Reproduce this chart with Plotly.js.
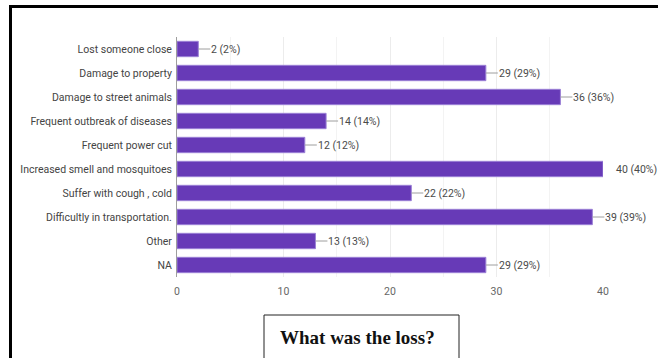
<!DOCTYPE html>
<html>
<head>
<meta charset="utf-8">
<script src="https://cdn.plot.ly/plotly-3.0.1.min.js"></script>
<style>html,body{margin:0;padding:0;background:#fff;}#chart{width:658px;height:358px;}</style>
</head>
<body>
<div id="chart"></div>
<script>
const categories = [
  "Lost someone close",
  "Damage to property",
  "Damage to street animals",
  "Frequent outbreak of diseases",
  "Frequent power cut",
  "Increased smell and mosquitoes",
  "Suffer with cough , cold",
  "Difficultly in transportation.",
  "Other",
  "NA"
];
const counts = [2, 29, 36, 14, 12, 40, 22, 39, 13, 29];
const percents = [2, 29, 36, 14, 12, 40, 22, 39, 13, 29];
const xTicks = [0, 10, 20, 30, 40];
const chartTitle = "What was the loss?";

const W = 658, H = 358;
const L = 177, R = 55, T = 37, B = 81;
const pw = W - L - R, ph = H - T - B;
const px = v => (v - L) / pw;
const py = v => (H - B - v) / ph;
const xMax = 40;
const FONT = 'Roboto, "Liberation Sans", Arial, sans-serif';

const annotations = categories.map((c, i) => ({
  x: counts[i], y: c, xref: 'x', yref: 'y',
  text: counts[i] + ' (' + percents[i] + '%)',
  showarrow: true, arrowhead: 0, arrowwidth: 1,
  arrowcolor: counts[i] >= xMax ? 'rgba(0,0,0,0)' : '#9e9e9e',
  ax: 12, ay: 0, xanchor: 'left', yanchor: 'middle', standoff: 0, borderpad: 0,
  font: {family: FONT, size: 10.5, color: '#4a4a4a'}
}));
annotations.push({
  xref: 'paper', yref: 'paper', x: px(278), y: py(337.5),
  xanchor: 'left', yanchor: 'middle', showarrow: false,
  text: '<b>' + chartTitle + '</b>',
  font: {family: '"Liberation Serif", "Times New Roman", serif', size: 19, color: '#111'}
});

const shapes = [
  {type: 'rect', xref: 'paper', yref: 'paper', x0: px(264), x1: px(459), y0: py(315), y1: py(380),
   line: {color: '#222', width: 1}, fillcolor: 'rgba(0,0,0,0)'},
  {type: 'line', xref: 'paper', yref: 'paper', x0: px(9), x1: px(662), y0: py(6.5), y1: py(6.5),
   line: {color: '#000', width: 3}},
  {type: 'line', xref: 'paper', yref: 'paper', x0: px(10.5), x1: px(10.5), y0: py(5), y1: py(362),
   line: {color: '#000', width: 3}}
];

const trace = {
  type: 'bar', orientation: 'h',
  x: counts, y: categories,
  marker: {color: '#673ab7', line: {color: '#9b80d6', width: 1}},
  hoverinfo: 'none'
};

const layout = {
  width: W, height: H,
  margin: {l: L, r: R, t: T, b: B, pad: 0},
  paper_bgcolor: '#fff', plot_bgcolor: '#fff',
  bargap: 0.36,
  showlegend: false,
  xaxis: {
    range: [0, xMax], tickvals: xTicks, ticktext: xTicks.map(String),
    showgrid: true, gridcolor: '#ececec', gridwidth: 1,
    minor: {dtick: 5, showgrid: true, gridcolor: '#f3f3f3', gridwidth: 1},
    zeroline: false, showline: false, ticks: '',
    ticklabelstandoff: 6,
    tickfont: {family: FONT, size: 10.5, color: '#666'},
    fixedrange: true
  },
  yaxis: {
    type: 'category', categoryorder: 'array', categoryarray: categories,
    autorange: 'reversed',
    showgrid: false, zeroline: false,
    showline: true, linecolor: '#9e9e9e', linewidth: 1,
    ticks: '', ticklabelstandoff: 2,
    tickfont: {family: FONT, size: 10.5, color: '#444'},
    fixedrange: true
  },
  annotations: annotations,
  shapes: shapes
};

Plotly.newPlot('chart', [trace], layout, {displayModeBar: false, staticPlot: true});
</script>
</body>
</html>
